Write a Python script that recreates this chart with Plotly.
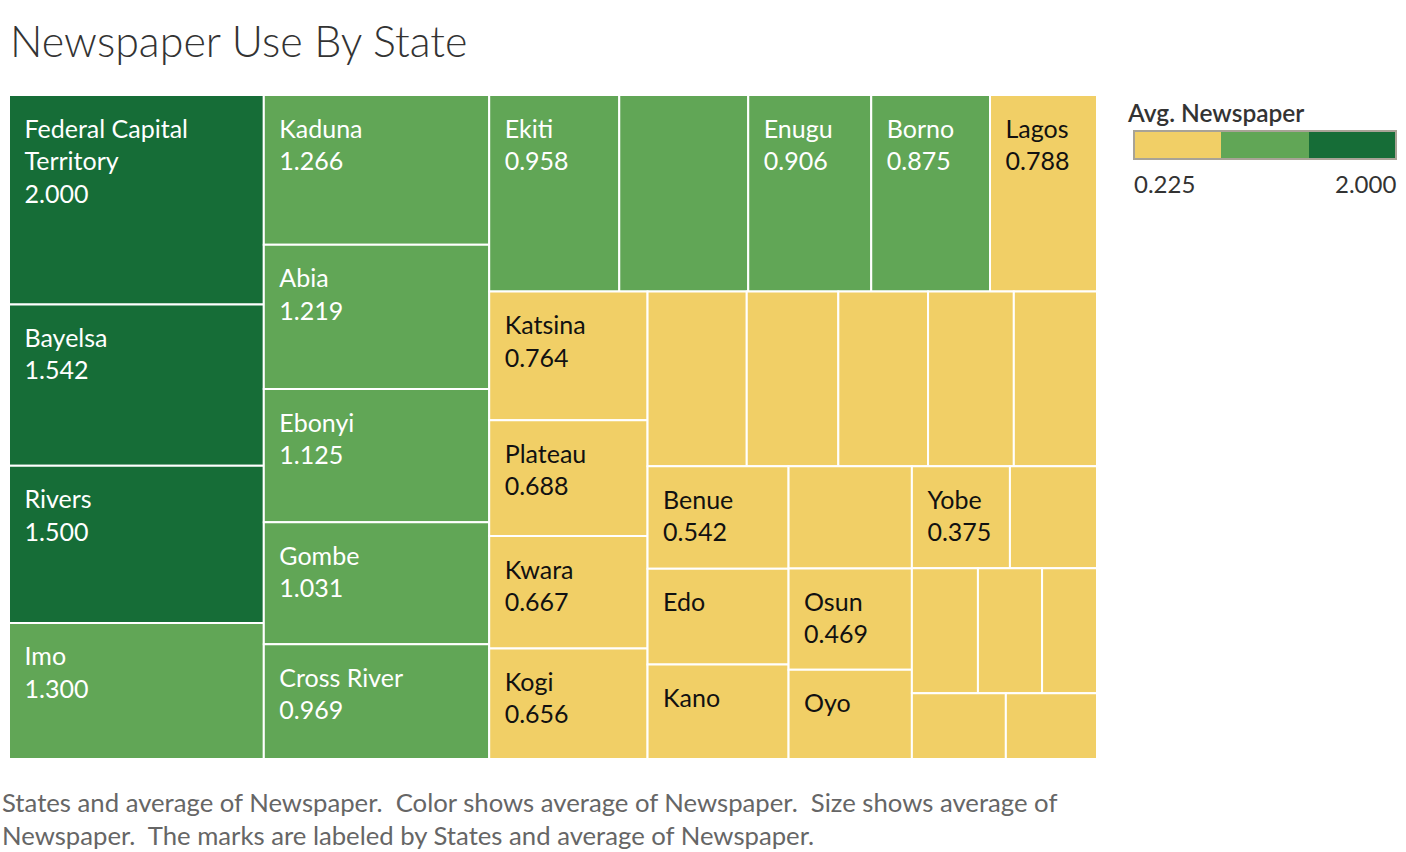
import plotly.graph_objects as go

# ---------------- data ----------------
states = [
    "Federal Capital Territory", "Bayelsa", "Rivers", "Imo",
    "Kaduna", "Abia", "Ebonyi", "Gombe", "Cross River",
    "Ekiti", "Anambra", "Enugu", "Borno", "Lagos",
    "Katsina", "Plateau", "Kwara", "Kogi",
    "Delta", "Akwa Ibom", "Ogun", "Ondo", "Nasarawa",
    "Benue", "Edo", "Kano",
    "Niger", "Osun", "Oyo",
    "Yobe", "Adamawa",
    "Taraba", "Bauchi", "Kebbi",
    "Jigawa", "Zamfara",
]
avg_newspaper = [
    2.000, 1.542, 1.500, 1.300,
    1.266, 1.219, 1.125, 1.031, 0.969,
    0.958, 0.950, 0.906, 0.875, 0.788,
    0.764, 0.688, 0.667, 0.656,
    0.650, 0.600, 0.588, 0.562, 0.545,
    0.542, 0.505, 0.500,
    0.472, 0.469, 0.412,
    0.375, 0.333,
    0.309, 0.300, 0.257,
    0.232, 0.225,
]
# which marks carry a label in the original (name, value)
label_names = {"Federal Capital Territory", "Bayelsa", "Rivers", "Imo", "Kaduna", "Abia",
               "Ebonyi", "Gombe", "Cross River", "Ekiti", "Enugu", "Borno", "Lagos",
               "Katsina", "Plateau", "Kwara", "Kogi", "Benue", "Edo", "Kano", "Osun",
               "Oyo", "Yobe"}
label_values = {"Federal Capital Territory", "Bayelsa", "Rivers", "Imo", "Kaduna", "Abia",
                "Ebonyi", "Gombe", "Cross River", "Ekiti", "Enugu", "Borno", "Lagos",
                "Katsina", "Plateau", "Kwara", "Kogi", "Benue", "Osun", "Yobe"}
display_names = {"Federal Capital Territory": ["Federal Capital", "Territory"]}

color_min, color_max = 0.225, 2.000
legend_title = "Avg. Newspaper"
title_text = "Newspaper Use By State"
caption = ("States and average of Newspaper.  Color shows average of Newspaper.  Size shows average of<br>"
           "Newspaper.  The marks are labeled by States and average of Newspaper.")

# ---------------- style ----------------
YELLOW, GREEN, DKGREEN = "#F1CF66", "#61A656", "#166D37"
colorscale = [[0, YELLOW], [1/3, YELLOW], [1/3, GREEN], [2/3, GREEN], [2/3, DKGREEN], [1, DKGREEN]]
FONT = "Lato"
W, H = 1406, 852
INDENT = "\u2002"                                        # left inset of cell labels
SPACER = '<span style="font-size:7px">\u00a0</span>'    # top inset of cell labels

edge1 = color_min + (color_max - color_min) / 3
texts, tcolors = [], []
for s, v in zip(states, avg_newspaper):
    lines = []
    if s in label_names:
        lines.extend(display_names.get(s, [s]))
    if s in label_values:
        lines.append(f"{v:.3f}")
    if lines:
        texts.append("<br>".join([SPACER] + [INDENT + ln for ln in lines]))
    else:
        texts.append("")
    tcolors.append("white" if v > edge1 else "#111111")

fig = go.Figure(go.Treemap(
    ids=states,
    labels=states,
    parents=[""] * len(states),
    values=avg_newspaper,
    sort=True,
    text=texts,
    texttemplate="%{text}",
    textposition="top left",
    textfont=dict(family=FONT, size=25, color=tcolors),
    hovertemplate="%{label}<br>Avg. Newspaper: %{value:.3f}<extra></extra>",
    tiling=dict(packing="squarify", squarifyratio=1.618034, pad=0),
    pathbar=dict(visible=False),
    root=dict(color="white"),
    marker=dict(
        colors=avg_newspaper,
        colorscale=colorscale,
        cmin=color_min, cmax=color_max,
        line=dict(color="white", width=2),
        pad=dict(t=0, l=0, r=0, b=0),
        showscale=True,
        colorbar=dict(
            orientation="h",
            xref="container", yref="container",
            x=1134 / W, xanchor="left",
            y=1 - 131 / H, yanchor="top",
            len=262, lenmode="pixels",
            thickness=28,
            xpad=0, ypad=0,
            outlinecolor="#A8A396", outlinewidth=2,
            showticklabels=False, ticks="",
        ),
    ),
    domain=dict(x=[9 / W, 1097 / W], y=[1 - 759 / H, 1 - 95 / H]),
))

annotations = [
    dict(text=title_text, x=8 / W, y=1 - 41 / H, xref="paper", yref="paper",
         xanchor="left", yanchor="middle", showarrow=False,
         font=dict(family=FONT, size=43, color="#333333", weight=300)),
    dict(text=legend_title, x=1125 / W, y=1 - 112 / H, xref="paper", yref="paper",
         xanchor="left", yanchor="middle", showarrow=False,
         font=dict(family=FONT, size=24.5, color="#333333", weight=600)),
    dict(text=f"{color_min:.3f}", x=1132 / W, y=1 - 183 / H, xref="paper", yref="paper",
         xanchor="left", yanchor="middle", showarrow=False,
         font=dict(family=FONT, size=24, color="#333333")),
    dict(text=f"{color_max:.3f}", x=1398 / W, y=1 - 183 / H, xref="paper", yref="paper",
         xanchor="right", yanchor="middle", showarrow=False,
         font=dict(family=FONT, size=24, color="#333333")),
    dict(text=caption, x=0, y=1 - 818 / H, xref="paper", yref="paper",
         xanchor="left", yanchor="middle", align="left", showarrow=False,
         font=dict(family=FONT, size=25.7, color="#666666")),
]

fig.update_layout(
    width=W, height=H,
    margin=dict(l=0, r=0, t=0, b=0, autoexpand=False),
    paper_bgcolor="white", plot_bgcolor="white",
    annotations=annotations,
    font=dict(family=FONT),
)

fig.write_html("out.html")
